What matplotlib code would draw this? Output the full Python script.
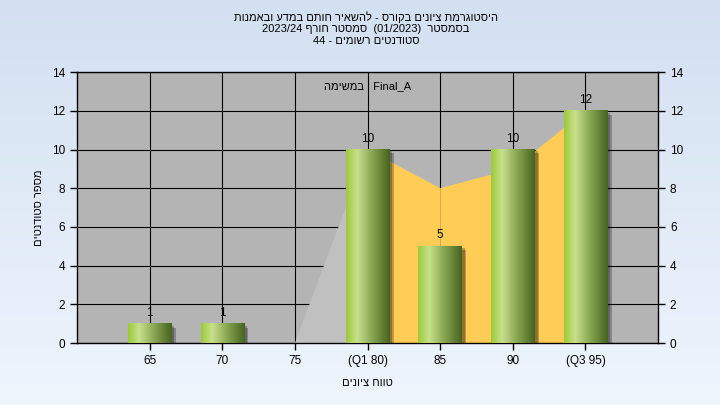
import re
import numpy as np
import matplotlib
matplotlib.use("Agg")
import matplotlib.pyplot as plt
from matplotlib.colors import LinearSegmentedColormap

plt.rcParams['font.family'] = ['Liberation Sans', 'DejaVu Sans']

# נתונים
categories = ['65', '70', '75', '(Q1 80)', '85', '90', '(Q3 95)']
counts = [1, 1, 0, 10, 5, 10, 12]
area_vals = [0, 0, 0, 10, 8, 9, 12]
area_cols = ['#c0c0c0', '#c0c0c0', '#c0c0c0', '#ffcc55', '#ffcc55', '#ffcc55']

title_lines = ['היסטוגרמת ציונים בקורס - להשאיר חותם במדע ובאמנות',
               'בסמסטר  (01/2023)  סמסטר חורף 2023/24',
               'סטודנטים רשומים - 44']
task_txt = 'במשימה'
task_name = 'Final_A'
xlabel = 'טווח ציונים'
ylabel = 'מספר סטודנטים'


def rtl(s):
    # סידור ויזואלי פשוט לעברית (matplotlib לא תומך ב-bidi)
    runs = re.findall(r'[A-Za-z0-9_/.]+|[^A-Za-z0-9_/.]', s)
    mirror = {'(': ')', ')': '('}
    return ''.join(mirror.get(r, r) for r in reversed(runs))


fig = plt.figure(figsize=(7.2, 4.05), dpi=100)

# רקע מדורג
bg = fig.add_axes([0, 0, 1, 1], zorder=-10)
grad = np.linspace(0, 1, 256).reshape(-1, 1)
bg_cmap = LinearSegmentedColormap.from_list('bg', ['#d3e0f1', '#eef5fd'])
bg.imshow(grad, aspect='auto', cmap=bg_cmap, extent=[0, 1, 0, 1])
bg.axis('off')

ax = fig.add_axes([0.107, 0.153, 0.807, 0.669])
ax.set_facecolor('#b4b4b4')
x = np.arange(len(categories))
ax.set_yticks(range(0, 15, 2))
ax.set_xticks(x)
ax.set_xticklabels(categories, fontsize=8.5)
ax.grid(True, color='black', linewidth=0.8, zorder=0)
ax.set_axisbelow(True)

# שטח ברקע
for i in range(len(categories) - 1):
    if area_vals[i] == 0 and area_vals[i + 1] == 0:
        continue
    xs = [x[i], x[i + 1], x[i + 1], x[i]]
    ys = [area_vals[i], area_vals[i + 1], 0, 0]
    ax.fill(xs, ys, color=area_cols[i], linewidth=0, zorder=1)

# עמודות עם מעבר צבע
bar_cmap = LinearSegmentedColormap.from_list(
    'bar', [(0, '#9dca3a'), (0.25, '#c8e08c'), (0.6, '#88a552'), (1, '#476420')])
gbar = np.linspace(0, 1, 64).reshape(1, -1)
w = 0.6
for xi, v in zip(x, counts):
    if v == 0:
        continue
    ax.add_patch(plt.Rectangle((xi - w / 2 + 0.06, -0.2), w, v,
                               color='black', alpha=0.25, linewidth=0, zorder=2))
    ax.add_patch(plt.Rectangle((xi - w / 2 + 0.04, -0.1), w, v,
                               color='black', alpha=0.25, linewidth=0, zorder=2))
    ax.imshow(gbar, aspect='auto', cmap=bar_cmap,
              extent=[xi - w / 2, xi + w / 2, 0, v], zorder=3)
    ax.text(xi, v + 0.25, str(v), ha='center', va='bottom', fontsize=8.5, zorder=4)
ax.set_xlim(-1, len(categories))
ax.set_ylim(0, 14)

ax.text(x[3], 13.3, rtl(task_txt) + ' : ' + task_name, ha='center', va='center',
        fontsize=8, zorder=4)

ax.tick_params(axis='both', direction='out', length=5, width=1, colors='black',
               labelsize=8.5)
ax.tick_params(axis='y', right=True, labelright=True)
for s in ax.spines.values():
    s.set_color('black')
    s.set_linewidth(1)

ax.set_xlabel(rtl(xlabel), fontsize=8, labelpad=8)
ax.set_ylabel(rtl(ylabel), fontsize=8, labelpad=6)

ty = [0.958, 0.928, 0.898]
for t, yy in zip(title_lines, ty):
    fig.text(0.508, yy, rtl(t), ha='center', va='center', fontsize=8)

fig.savefig('out.png', dpi=100)
